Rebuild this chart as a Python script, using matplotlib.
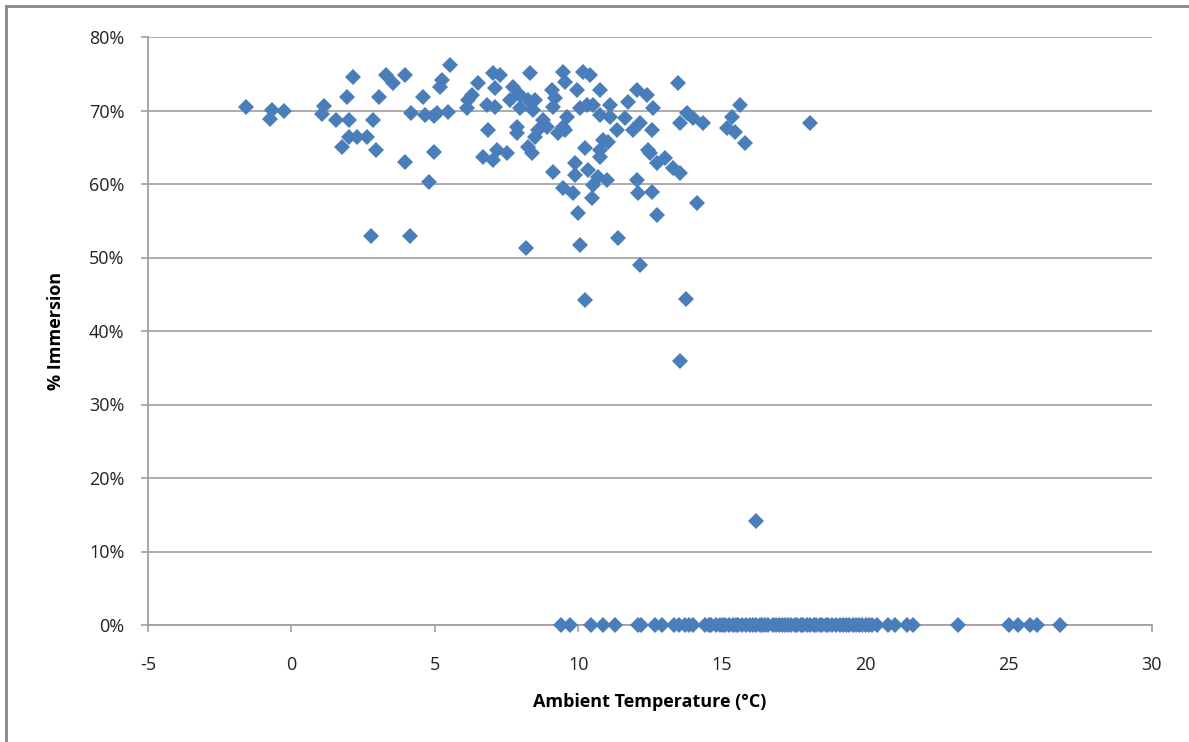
import matplotlib
matplotlib.use("Agg")
import matplotlib.pyplot as plt
from matplotlib.lines import Line2D
from matplotlib.ticker import FuncFormatter

# points: ambient temperature (deg C), immersion (%)
temp_wet = [
    -1.6, -0.66, -0.73, -0.25, 1.15, 1.05, 1.57, 1.78, 1.92, 2.0, 1.99, 2.27,
    2.16, 2.65, 2.79, 2.86, 2.96, 3.07, 3.28, 3.55, 3.97, 3.97, 4.15, 4.18,
    4.6, 4.67, 4.81, 4.98, 4.98, 5.09, 5.19, 5.26, 5.54, 5.47,
    6.17, 6.31, 6.13, 6.52, 7.04, 7.28, 7.11, 6.83, 7.11, 6.87, 6.69, 7.04,
    7.18, 7.53, 7.74, 7.63, 7.98, 7.98, 7.88, 7.88, 8.33, 8.23, 8.5, 8.43,
    8.26, 8.4, 8.5, 8.6, 8.78, 8.92, 9.1, 9.2, 9.13, 9.48, 9.55, 9.62, 9.48,
    9.31, 9.55, 9.97, 10.18, 10.42, 10.32, 10.07, 10.53, 10.77, 10.77, 11.12,
    11.12, 11.36, 11.64, 11.75, 12.06, 12.41, 12.62, 12.16, 11.89, 12.58,
    10.87, 11.05, 10.77, 10.25, 10.77, 12.44, 12.51, 13.04, 12.76, 13.31,
    13.56, 13.49, 13.8, 13.56, 14.01, 14.36, 15.65, 15.37, 15.2, 15.48, 15.82,
    9.13, 9.9, 9.9, 10.35, 10.67, 11.01, 9.48, 9.83, 10.53, 10.49, 12.06,
    12.09, 12.58, 10.0, 12.76, 14.15, 11.4, 10.07, 8.19, 12.16,
    10.25, 13.77, 13.56, 16.2, 18.09,
]
imm_wet = [
    70.5, 70.1, 68.8, 69.9, 70.6, 69.5, 68.7, 65.0, 71.8, 68.7, 66.4, 66.4,
    74.6, 66.4, 52.9, 68.7, 64.6, 71.8, 74.8, 73.7, 74.8, 63.0, 52.9, 69.7,
    71.8, 69.4, 60.3, 69.3, 64.4, 69.7, 73.2, 74.1, 76.2, 69.8,
    71.4, 72.1, 70.3, 73.7, 75.1, 74.8, 73.1, 70.7, 70.5, 67.3, 63.7, 63.3,
    64.6, 64.2, 73.2, 71.4, 72.1, 70.3, 67.8, 66.9, 75.1, 71.4, 71.4, 70.1,
    65.0, 64.2, 66.4, 67.3, 68.7, 67.8, 72.8, 71.7, 70.5, 75.2, 73.9, 69.1, 67.8,
    66.9, 67.3, 72.8, 75.2, 74.8, 70.7, 70.3, 70.7, 72.8, 69.4, 70.7,
    69.1, 67.3, 69.0, 71.2, 72.8, 72.1, 70.3, 68.3, 67.3, 67.3,
    66.0, 65.7, 64.6, 64.9, 63.7, 64.6, 64.2, 63.5, 62.9, 62.2,
    61.5, 73.7, 69.7, 68.3, 69.0, 68.3, 70.7, 69.1, 67.6, 67.1, 65.6,
    61.6, 62.9, 61.2, 61.9, 61.0, 60.5, 59.5, 58.8, 59.9, 58.1, 60.5,
    58.8, 58.9, 56.1, 55.8, 57.4, 52.7, 51.7, 51.3, 49.0,
    44.2, 44.4, 35.9, 14.1, 68.3,
]
temp_dry = [
    9.38, 9.72, 10.46, 10.87, 11.29, 12.09, 12.2, 12.69, 12.93, 13.35, 13.52,
    13.73, 13.87, 14.01, 14.4, 14.55, 14.64, 14.81, 14.95, 15.05, 15.13, 15.27,
    15.41, 15.5, 15.58, 15.72, 15.86, 16.0, 16.1, 16.21, 16.32, 16.42, 16.52,
    16.63, 16.8, 16.9, 17.0, 17.1, 17.22, 17.32, 17.43, 17.54, 17.64, 17.75,
    17.85, 17.97, 18.09, 18.2, 18.3, 18.41, 18.51, 18.62, 18.72, 18.86, 19.0,
    19.12, 19.24, 19.35, 19.45, 19.57, 19.69, 19.8, 19.9, 20.04, 20.15, 20.25,
    20.43, 20.81, 21.05, 21.47, 21.68, 23.25, 25.0, 25.34, 25.76, 26.0, 26.8,
]
imm_dry = [0.0] * len(temp_dry)

x_ticks = [-5, 0, 5, 10, 15, 20, 25, 30]
y_ticks = [0, 10, 20, 30, 40, 50, 60, 70, 80]

plt.rcParams['font.family'] = ['Open Sans', 'DejaVu Sans']
plt.rcParams['axes.unicode_minus'] = False

fig = plt.figure(figsize=(11.89, 7.42), dpi=100, facecolor='white')
ax = fig.add_axes([148 / 1189, 1 - 625 / 742, (1152 - 148) / 1189, (625 - 37) / 742])

blue = '#4A7EBB'
ax.plot(temp_wet + temp_dry, imm_wet + imm_dry, linestyle='none', marker='D',
        markersize=8, color=blue, markeredgewidth=0, zorder=3, clip_on=False)

ax.set_xlim(-5, 30)
ax.set_ylim(0, 80)
ax.set_xticks(x_ticks)
ax.set_yticks(y_ticks)
ax.yaxis.set_major_formatter(FuncFormatter(lambda v, p: '%d%%' % v))
ax.grid(axis='y', color='#A6A6A6', linewidth=1.3)
ax.set_axisbelow(True)

for side in ('top', 'right'):
    ax.spines[side].set_visible(False)
for side in ('left', 'bottom'):
    ax.spines[side].set_color('#A0A0A0')
    ax.spines[side].set_linewidth(1.3)

ax.tick_params(axis='both', direction='out', length=5, width=1.2, color='#A0A0A0',
               labelsize=13, labelcolor='#222222')
ax.tick_params(axis='x', pad=17)
ax.tick_params(axis='y', pad=12)

ax.set_xlabel('Ambient Temperature (°C)', fontsize=13, fontweight='bold', labelpad=14)
ax.set_ylabel('% Immersion', fontsize=13, fontweight='bold', labelpad=17)

# outer chart frame (only left and top edge visible in the crop)
fig.add_artist(Line2D([6 / 1189, 6 / 1189], [0, 1 - 6 / 742], transform=fig.transFigure,
                      color='#888888', linewidth=2))
fig.add_artist(Line2D([6 / 1189, 1], [1 - 6 / 742, 1 - 6 / 742], transform=fig.transFigure,
                      color='#888888', linewidth=2))

fig.savefig('out.png', dpi=100, facecolor='white')
